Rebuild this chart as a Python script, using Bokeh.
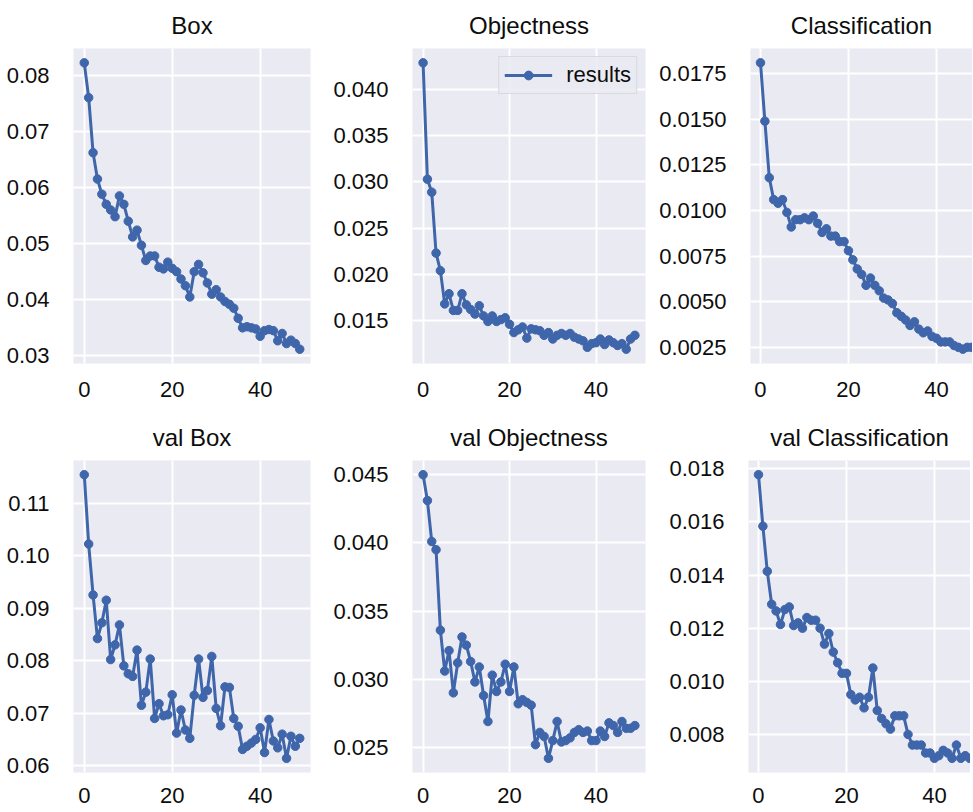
from bokeh.plotting import figure
from bokeh.layouts import column, row
from bokeh.models import FixedTicker, PrintfTickFormatter, Range1d, DataRange1d
from bokeh.embed import file_html
from bokeh.resources import INLINE

epochs = list(range(50))

box = [0.0822, 0.0760, 0.0662, 0.0615, 0.0588, 0.0570, 0.0560, 0.0548, 0.0585, 0.0570,
       0.0540, 0.0512, 0.0524, 0.0497, 0.0470, 0.0478, 0.0478, 0.0458, 0.0455, 0.0467,
       0.0456, 0.0450, 0.0437, 0.0425, 0.0405, 0.0450, 0.0463, 0.0448, 0.0430, 0.0410,
       0.0418, 0.0405, 0.0397, 0.0392, 0.0385, 0.0367, 0.0350, 0.0352, 0.0350, 0.0348,
       0.0335, 0.0345, 0.0347, 0.0345, 0.0327, 0.0340, 0.0322, 0.0328, 0.0322, 0.0312]

objectness = [0.0429, 0.0303, 0.0289, 0.0223, 0.0204, 0.0168, 0.0179, 0.0161, 0.0161, 0.0179,
              0.0167, 0.0162, 0.0157, 0.0166, 0.0155, 0.0149, 0.0155, 0.0149, 0.0151, 0.0153,
              0.0146, 0.0137, 0.0140, 0.0143, 0.0131, 0.0141, 0.0140, 0.0139, 0.0134, 0.0137,
              0.0130, 0.0134, 0.0136, 0.0134, 0.0136, 0.0132, 0.0130, 0.0128, 0.0121, 0.0125,
              0.0126, 0.0130, 0.0124, 0.0129, 0.0126, 0.0123, 0.0125, 0.0119, 0.0130, 0.0134]

classification = [0.0181, 0.0149, 0.0118, 0.0106, 0.0104, 0.0106, 0.0099, 0.0091, 0.0095, 0.0095,
                  0.0096, 0.0095, 0.0097, 0.0093, 0.0088, 0.0090, 0.0086, 0.0086, 0.0083, 0.0083,
                  0.0078, 0.0073, 0.0068, 0.0065, 0.0059, 0.0063, 0.0059, 0.0056, 0.0052, 0.0051,
                  0.0049, 0.0044, 0.0042, 0.0040, 0.0037, 0.0039, 0.0035, 0.0033, 0.0034, 0.0031,
                  0.0030, 0.0028, 0.0028, 0.0028, 0.0026, 0.0025, 0.0024, 0.0025, 0.0025, 0.0024]

val_box = [0.1154, 0.1022, 0.0925, 0.0842, 0.0872, 0.0915, 0.0802, 0.0830, 0.0868, 0.0790,
           0.0775, 0.0770, 0.0820, 0.0715, 0.0740, 0.0803, 0.0690, 0.0718, 0.0695, 0.0697,
           0.0735, 0.0662, 0.0706, 0.0668, 0.0652, 0.0734, 0.0803, 0.0730, 0.0743, 0.0808,
           0.0709, 0.0676, 0.0750, 0.0749, 0.0690, 0.0675, 0.0631, 0.0637, 0.0643, 0.0650,
           0.0672, 0.0625, 0.0688, 0.0647, 0.0634, 0.0660, 0.0614, 0.0656, 0.0637, 0.0652]

val_objectness = [0.0450, 0.0431, 0.0401, 0.0395, 0.0336, 0.0306, 0.0321, 0.0290, 0.0312, 0.0331,
                  0.0325, 0.0313, 0.0298, 0.0309, 0.0288, 0.0269, 0.0303, 0.0291, 0.0298, 0.0311,
                  0.0291, 0.0309, 0.0282, 0.0285, 0.0283, 0.0281, 0.0252, 0.0261, 0.0258, 0.0242,
                  0.0255, 0.0269, 0.0254, 0.0255, 0.0257, 0.0261, 0.0263, 0.0261, 0.0262, 0.0255,
                  0.0255, 0.0262, 0.0258, 0.0268, 0.0266, 0.0261, 0.0269, 0.0264, 0.0264, 0.0266]

val_classification = [0.01778, 0.01584, 0.01414, 0.0129, 0.01265, 0.01214, 0.0127, 0.0128, 0.0121, 0.0122,
                      0.0120, 0.0124, 0.0123, 0.0123, 0.0120, 0.0114, 0.0118, 0.0111, 0.0107, 0.0103,
                      0.0103, 0.0095, 0.0093, 0.0094, 0.0090, 0.0094, 0.0105, 0.0089, 0.0086, 0.0084,
                      0.0082, 0.0087, 0.0087, 0.0087, 0.0080, 0.0076, 0.0076, 0.0076, 0.0073, 0.0073,
                      0.0071, 0.0072, 0.0074, 0.0073, 0.0071, 0.0076, 0.0071, 0.0072, 0.0071, 0.0071]

titles = ["Box", "Objectness", "Classification", "val Box", "val Objectness", "val Classification"]
series = [box, objectness, classification, val_box, val_objectness, val_classification]
y_ticks = [
    [0.03, 0.04, 0.05, 0.06, 0.07, 0.08],
    [0.015, 0.020, 0.025, 0.030, 0.035, 0.040],
    [0.0025, 0.0050, 0.0075, 0.0100, 0.0125, 0.0150, 0.0175],
    [0.06, 0.07, 0.08, 0.09, 0.10, 0.11],
    [0.025, 0.030, 0.035, 0.040, 0.045],
    [0.008, 0.010, 0.012, 0.014, 0.016, 0.018],
]
y_formats = ["%.2f", "%.3f", "%.4f", "%.2f", "%.3f", "%.3f"]
x_ticks = [0, 20, 40]

FONT = "Liberation Sans"
LINE = "#3F66AA"
BG = "#EAEAF2"

# column geometry (left border, frame width, right border)
cols = [(73, 237, 20), (82, 233, 11), (92, 222, 0)]
# row geometry (top border, frame height, bottom border)
rows_geo = [(47, 315, 49), (47, 312, 42)]


def make(idx):
    r, c = divmod(idx, 3)
    lb, fw, rb = cols[c]
    tb, fh, bb = rows_geo[r]
    if c == 2:
        xr = Range1d(-2.27, 48.2)
    else:
        xr = DataRange1d(range_padding=0.1)
    p = figure(frame_width=fw, frame_height=fh, x_range=xr,
               y_range=DataRange1d(range_padding=0.1),
               min_border_left=lb, min_border_right=rb,
               min_border_top=tb, min_border_bottom=bb,
               output_backend="svg", toolbar_location=None,
               background_fill_color=BG, border_fill_color="white",
               outline_line_color=None, title=titles[idx])
    p.title.text_font = FONT
    p.title.text_font_size = "24px"
    p.title.text_font_style = "normal"
    p.title.align = "center"
    p.title.text_color = "#0d0d0d"
    p.title.standoff = 19

    y = series[idx]
    kw = {}
    if idx == 1:
        kw = dict(legend_label="results")
    p.line(epochs, y, line_color=LINE, line_width=3, **kw)
    p.scatter(epochs, y, size=8.5, fill_color=LINE, line_color=LINE, **kw)

    p.xaxis.ticker = FixedTicker(ticks=x_ticks)
    p.yaxis.ticker = FixedTicker(ticks=y_ticks[idx])
    p.yaxis.formatter = PrintfTickFormatter(format=y_formats[idx])
    for ax in (p.xaxis, p.yaxis):
        ax.axis_line_color = None
        ax.major_tick_line_color = None
        ax.minor_tick_line_color = None
        ax.major_label_text_font = FONT
        ax.major_label_text_font_size = "22px"
        ax.major_label_text_color = "#0d0d0d"
    p.xaxis.major_label_standoff = 12 if r == 0 else 9
    p.yaxis.major_label_standoff = 18
    for g in (p.xgrid, p.ygrid):
        g.grid_line_color = "white"
        g.grid_line_width = 2
    if idx == 1:
        lg = p.legend[0]
        lg.location = "top_right"
        lg.margin = 8
        lg.padding = 5
        lg.spacing = 0
        lg.glyph_width = 48
        lg.glyph_height = 22
        lg.label_standoff = 14
        lg.label_text_font = FONT
        lg.label_text_font_size = "22px"
        lg.label_text_color = "#0d0d0d"
        lg.background_fill_color = BG
        lg.background_fill_alpha = 0.85
        lg.border_line_color = "#c8c8cc"
        lg.border_line_width = 1.5
    return p

figs = [make(i) for i in range(6)]
layout = column(row(*figs[:3]), row(*figs[3:]))

open("out.html", "w").write(file_html(layout, INLINE))
